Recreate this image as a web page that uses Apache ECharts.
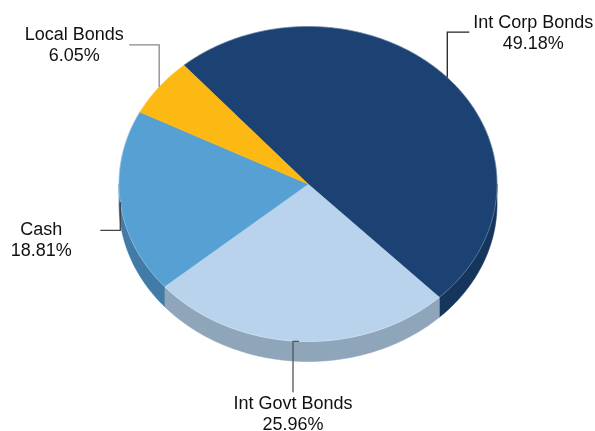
<!DOCTYPE html>
<html><head><meta charset="utf-8">
<script src="https://cdn.jsdelivr.net/npm/echarts@6/dist/echarts.min.js"></script>
<style>html,body{margin:0;padding:0;background:#fff}#c{width:595px;height:431px}</style>
</head><body><div id="c"></div>
<script>
// ---- data ----
const categories = ['Int Corp Bonds', 'Int Govt Bonds', 'Cash', 'Local Bonds'];
const values = [49.18, 25.96, 18.81, 6.05];

// ---- styles ----
const topColors = ['#1b4272', '#b9d3ec', '#56a0d3', '#fdb913'];
const sideColors = ['#15355d', '#8ea5ba', '#427ba6', '#c48f0e'];
const lineColors = ['#222222', '#555555', '#444444', '#888888'];

// ---- layout ----
const PIE = { cx: 308, cy: 184, rx: 189, ry: 157.5, depth: 20, startAngle: 131.05 };
const LABEL_LAYOUT = [
  { leg1: [0, -45.5], leg2: [22, 0], text: [64, 1.5] },
  { leg1: [-6, 0], leg2: [0, 51], text: [0, 22] },
  { leg1: [0, 28], leg2: [-20, 0], text: [-59, 10] },
  { leg1: [0, -42], leg2: [-30, 0], text: [-55, 1] }
];

const total = values.reduce((a, b) => a + b, 0);
const cum = [];
values.reduce((acc, v, i) => { cum[i] = acc; return acc + v; }, 0);

function pt(deg, dy) {
  const r = deg * Math.PI / 180;
  return [PIE.cx + PIE.rx * Math.cos(r), PIE.cy - PIE.ry * Math.sin(r) + (dy || 0)];
}
function arc(a0, a1, dy) { // from a0 to a1 (any direction)
  const n = Math.max(2, Math.ceil(Math.abs(a1 - a0) / 0.5));
  const out = [];
  for (let k = 0; k <= n; k++) out.push(pt(a0 + (a1 - a0) * k / n, dy));
  return out;
}

function renderItem(params, api) {
  const i = params.dataIndex;
  const v = api.value(1);
  const start = PIE.startAngle - 360 * cum[i] / total;
  const end = start - 360 * v / total;
  const children = [];
  // sides (lower half only)
  for (let k = -1; k <= 1; k++) {
    const lo = Math.max(end, -180 + 360 * k);
    const hi = Math.min(start, 0 + 360 * k);
    if (lo < hi) {
      const pts = arc(lo, hi, 0).concat(arc(hi, lo, PIE.depth));
      children.push({ type: 'polygon', shape: { points: pts },
        style: { fill: sideColors[i], stroke: sideColors[i], lineWidth: 0.6 } });
    }
  }
  // top face
  const topPts = [[PIE.cx, PIE.cy]].concat(arc(start, end, 0));
  children.push({ type: 'polygon', shape: { points: topPts },
    style: { fill: topColors[i], stroke: topColors[i], lineWidth: 0.6 } });
  children.push({ type: 'polyline', shape: { points: arc(start, end, 0) },
    style: { fill: null, stroke: 'rgba(255,255,255,0.3)', lineWidth: 0.8 } });
  // label
  const mid = (start + end) / 2;
  const a = pt(mid, 0);
  const L = LABEL_LAYOUT[i];
  const p1 = [a[0] + L.leg1[0], a[1] + L.leg1[1]];
  const p2 = [p1[0] + L.leg2[0], p1[1] + L.leg2[1]];
  children.push({ type: 'polyline', shape: { points: [a, p1, p2] },
    style: { fill: null, stroke: lineColors[i], lineWidth: 1.3 } });
  children.push({ type: 'text', style: {
    text: api.value(0) === undefined ? '' : categories[i] + '\n' + v.toFixed(2) + '%',
    x: p2[0] + L.text[0], y: p2[1] + L.text[1],
    align: 'center', verticalAlign: 'middle',
    fontSize: 18, lineHeight: 21, fontFamily: 'Liberation Sans, Arial, sans-serif',
    fill: '#111111' } });
  return { type: 'group', children: children };
}

const chart = echarts.init(document.getElementById('c'), null, { renderer: 'canvas' });
chart.setOption({
  animation: false,
  backgroundColor: '#ffffff',
  series: [{
    type: 'custom',
    coordinateSystem: 'none',
    renderItem: renderItem,
    data: categories.map((c, i) => [i, values[i]])
  }]
});
</script>
</body></html>
